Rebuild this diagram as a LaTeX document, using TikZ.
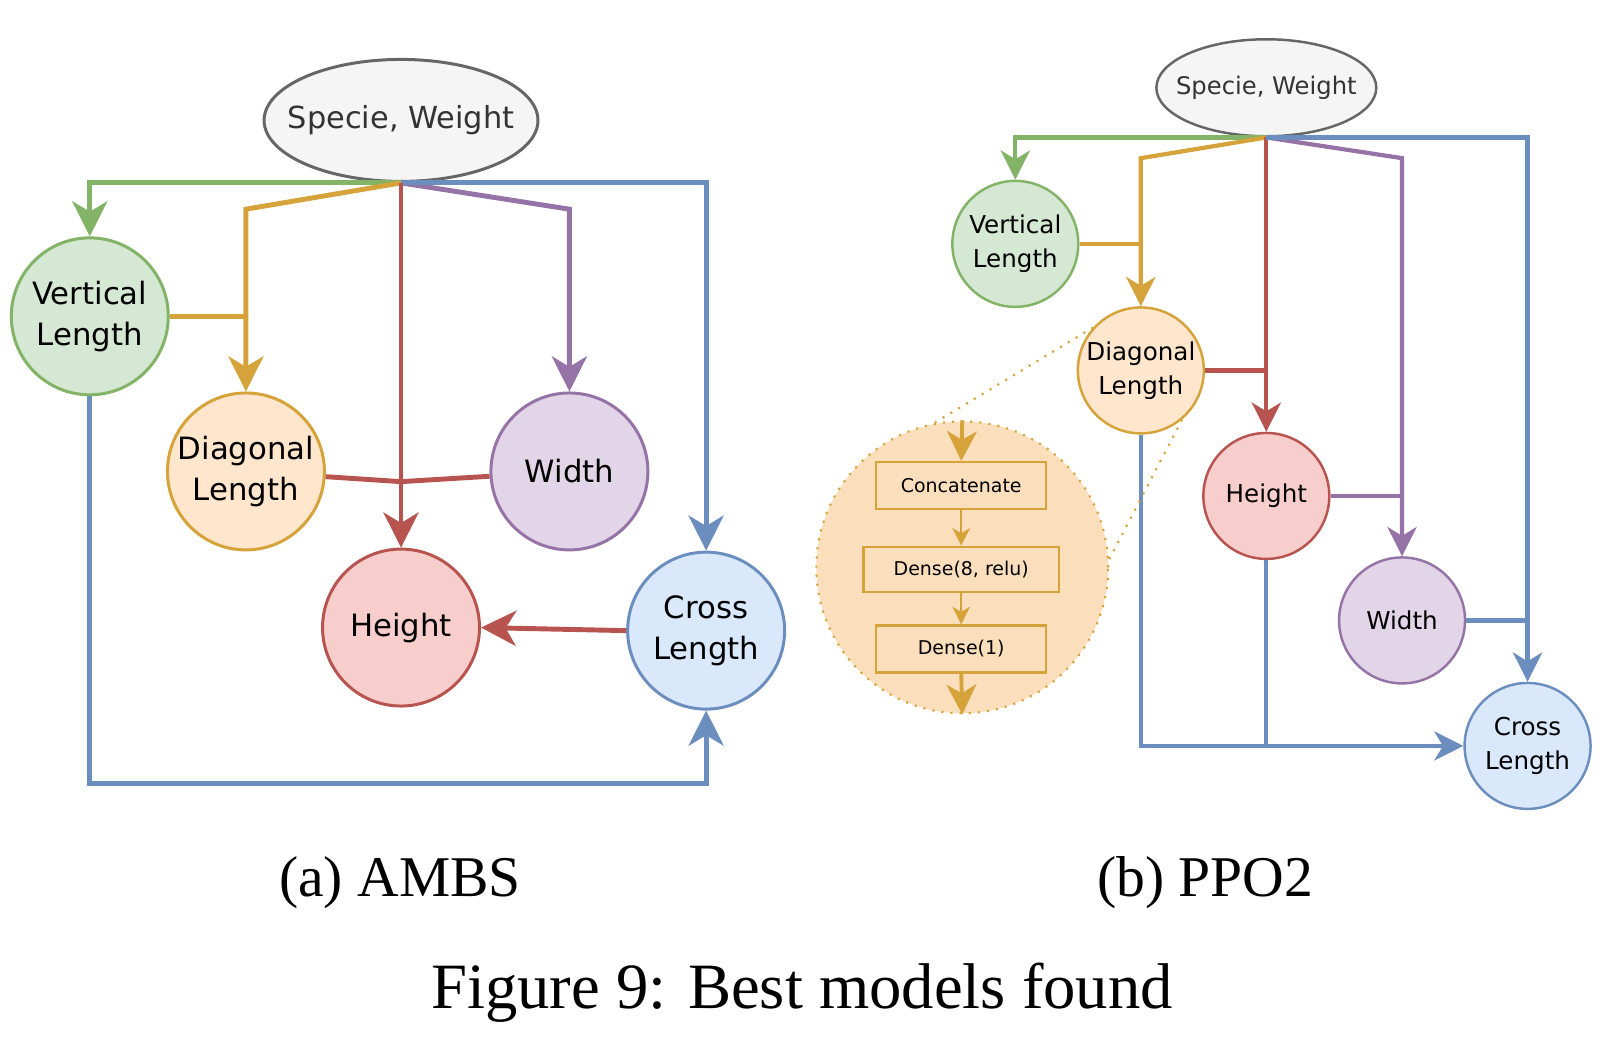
\documentclass[tikz,border=0pt]{standalone}
\usepackage{fontspec}
\newfontfamily\vfont{DejaVu Sans}
\newfontfamily\tfont{Liberation Serif}
\usetikzlibrary{positioning,shapes.geometric,arrows.meta}

\definecolor{grnD}{HTML}{82B366}\definecolor{grnL}{HTML}{D5E8D4}
\definecolor{orgD}{HTML}{D6A23A}\definecolor{orgL}{HTML}{FFE6CC}
\definecolor{redD}{HTML}{B85450}\definecolor{redL}{HTML}{F8CECC}
\definecolor{purD}{HTML}{9673A6}\definecolor{purL}{HTML}{E1D5E7}
\definecolor{bluD}{HTML}{6C8EBF}\definecolor{bluL}{HTML}{DAE8FC}
\definecolor{gryD}{HTML}{666666}\definecolor{gryL}{HTML}{F5F5F5}

\begin{document}
\begin{tikzpicture}[x=0.010204cm,y=-0.010204cm,
  every node/.style={draw,circle,inner sep=0pt,align=center},
  big/.style={minimum size=1.57cm,line width=0.85pt,font=\vfont\fontsize{8.75}{11.7}\selectfont},
  small/.style={minimum size=1.26cm,line width=0.7pt,font=\vfont\fontsize{7}{9.7}\selectfont},
  inp/.style={ellipse,draw=gryD,fill=gryL,text=black!80},
  ea/.style={line width=1.4pt,-{Stealth[length=10pt,width=10pt,inset=3pt]}},
  eb/.style={line width=1.2pt,-{Stealth[length=8.3pt,width=8.3pt,inset=2.5pt]}},
  layer/.style={rectangle,draw=orgD,fill=orgL,line width=0.7pt,minimum height=0.47cm,font=\vfont\fontsize{5.4}{6}\selectfont},
  captxt/.style={draw=none,rectangle,font=\tfont}]
\useasboundingbox (0,0) rectangle (1568,1033);

% (a) AMBS
\node[inp,line width=0.85pt,minimum width=2.74cm,minimum height=1.22cm,font=\vfont\fontsize{8.65}{9}\selectfont] (sw) at (393,118) {\makebox[0pt]{Specie, Weight}};
\foreach \n/\x/\y/\c/\lbl in {vl/88/310/grn/{Vertical\\Length},dl/241/462/org/{Diagonal\\Length},
	wd/558/462/pur/{Width},ht/393/615/red/{Height},cl/692/618/blu/{Cross\\Length}}
	\node[big,draw=\c D,fill=\c L] (\n) at (\x,\y) {\lbl};

\coordinate (ob) at (241,205);
\coordinate (pb) at (558,205);
\coordinate (hj) at (393,472);
\coordinate (bb) at (88,768);

\draw[ea,grnD](sw.south)-|(vl.north);
\draw[ea,orgD](sw.south)--(ob)--(dl.north);
\draw[line width=1.4pt,orgD](vl.east)--(vl.east-|dl.north);
\draw[ea,purD](sw.south)--(pb)--(wd.north);
\draw[ea,bluD](sw.south)-|(cl.north);
\draw[ea,redD](sw.south)--(ht.north);
\foreach \a in {dl,wd}
	\draw[line width=1.4pt,redD](\a)--(hj);
\draw[ea,redD](cl.west)--(ht.east);
\draw[ea,bluD](vl.south)--(bb)-|(cl.south);

% (b) PPO2
\node[inp,line width=0.7pt,minimum width=2.2cm,minimum height=0.97cm,font=\vfont\fontsize{6.9}{7}\selectfont] (swb) at (1241,86) {\makebox[0pt]{Specie, Weight}};
\foreach \n/\x/\y/\c/\lbl in {vlb/995/239/grn/{Vertical\\Length},dlb/1118/363/org/{Diagonal\\Length},
	htb/1241/486/red/{Height},wdb/1374/608/pur/{Width},clb/1497/731/blu/{Cross\\Length}}
	\node[small,draw=\c D,fill=\c L] (\n) at (\x,\y) {\lbl};

\coordinate (obb) at (1118,155);
\coordinate (pbb) at (1374,155);

\draw[eb,grnD](swb.south)-|(vlb.north);
\draw[eb,orgD](swb.south)--(obb)--(dlb.north);
\draw[line width=1.2pt,orgD](vlb.east)--(vlb.east-|dlb.north);
\draw[eb,redD](swb.south)--(htb.north);
\draw[line width=1.2pt,redD](dlb.east)--(dlb.east-|htb.north);
\draw[eb,purD](swb.south)--(pbb)--(wdb.north);
\draw[line width=1.2pt,purD](htb.east)--(htb.east-|wdb.north);
\draw[eb,bluD](swb.south)-|(clb.north);
\draw[line width=1.2pt,bluD](wdb.east)--(wdb.east-|clb.north);
\draw[eb,bluD](dlb.south)|-(clb.west);
\draw[line width=1.2pt,bluD](htb.south)--(htb.south|-clb.west);

% zoom of the diagonal length layers
\node[draw=orgD,fill=orgL!90!orgD,dotted,line width=0.6pt,minimum size=2.92cm] (zm) at (943,556) {};
\draw[orgD,dotted,line width=0.6pt](dlb.138)--(zm.101);
\draw[orgD,dotted,line width=0.6pt](dlb.-50)--(zm.3);
\node[layer,fill=orgL!90!orgD,minimum width=1.7cm] (cc) at (942,476) {Concatenate};
\node[layer,fill=orgL!90!orgD,minimum width=1.96cm,minimum height=0.45cm] (d8) at (942,558) {Dense(8, relu)};
\node[layer,fill=orgL!90!orgD,minimum width=1.7cm] (d1) at (942,636) {Dense(1)};
\draw[orgD,line width=1.1pt,-{Stealth[length=8.5pt,width=8.5pt,inset=2.5pt]}](zm.north)--(cc.north);
\foreach \a/\b in {cc/d8,d8/d1}
	\draw[orgD,line width=0.7pt,-{Stealth[length=5pt,width=5pt,inset=1.5pt]}](\a)--(\b);
\draw[orgD,line width=1.1pt,-{Stealth[length=8.5pt,width=8.5pt,inset=2.5pt]}](d1.south)--(zm.south);

% captions
\node[captxt,font=\tfont\fontsize{16.4}{18}\selectfont] (capa) at (392,865) {(a) AMBS};
\node[captxt,font=\tfont\fontsize{16.4}{18}\selectfont] (capb) at (1181,865) {(b) PPO2};
\node[captxt,font=\tfont\fontsize{18.4}{21}\selectfont] (capf) at (786,973) {Figure 9: Best models found};
\end{tikzpicture}
\end{document}
